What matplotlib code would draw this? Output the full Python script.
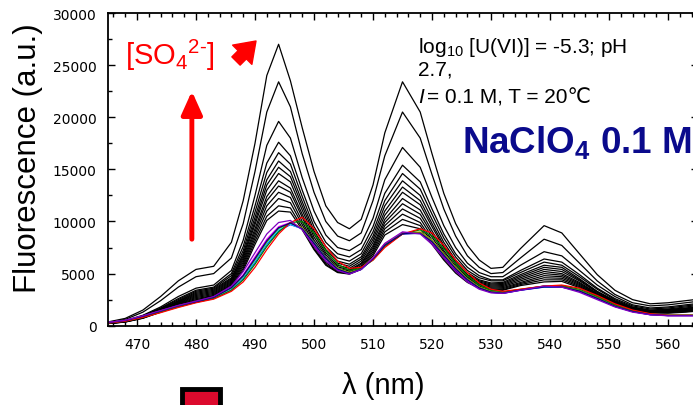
import matplotlib
matplotlib.use("Agg")
import matplotlib.pyplot as plt
from matplotlib.ticker import MultipleLocator
from matplotlib.patches import Rectangle

plt.rcParams['font.family'] = ['Liberation Sans', 'DejaVu Sans']
plt.rcParams['mathtext.default'] = 'regular'

# wavelength grid (nm)
wl = [465, 468, 471, 474, 477, 480, 483, 486, 488, 490, 492, 494, 496, 498, 500,
      502, 504, 506, 508, 510, 512, 515, 518, 520, 522, 524, 526, 528, 530, 532,
      535, 539, 542, 545, 548, 551, 554, 557, 560, 563, 566]

# spectra with increasing sulfate (black)
black_spectra = [
    [350, 700, 1500, 2800, 4300, 5400, 5700, 8000, 12000, 17500, 24000, 27000, 23500, 19000, 14800,
     11500, 9900, 9300, 10200, 13500, 18500, 23400, 20500, 16500, 12700, 9800, 7700, 6300, 5500, 5600,
     7400, 9600, 8900, 6900, 4900, 3400, 2500, 2100, 2200, 2400, 2600],
    [300, 600, 1300, 2400, 3700, 4700, 5000, 6500, 9800, 14800, 20500, 23400, 21000, 16500, 12800,
     10000, 8600, 8150, 8900, 12000, 16300, 20500, 18000, 14500, 11200, 8600, 6700, 5600, 5000, 5100,
     6500, 8300, 7700, 6000, 4300, 3000, 2200, 1900, 2000, 2200, 2400],
    [250, 500, 1000, 1800, 2800, 3600, 3900, 5300, 8200, 12500, 17300, 19600, 18000, 14200, 11000,
     8700, 7500, 7200, 7900, 10300, 14000, 17100, 15200, 12300, 9600, 7500, 6000, 5100, 4700, 4700,
     5800, 7100, 6700, 5300, 3900, 2800, 2000, 1700, 1800, 2000, 2200],
    [250, 450, 950, 1700, 2600, 3400, 3700, 5000, 7600, 11500, 15600, 17600, 16300, 13000, 10000,
     8000, 6900, 6600, 7300, 9500, 12700, 15400, 13800, 11200, 8800, 6900, 5600, 4800, 4400, 4400,
     5300, 6400, 6100, 4900, 3600, 2600, 1900, 1600, 1700, 1900, 2100],
    [250, 450, 900, 1650, 2500, 3300, 3600, 4800, 7200, 10900, 14700, 16600, 15500, 12400, 9500,
     7600, 6500, 6200, 6900, 9000, 12000, 14600, 13100, 10700, 8400, 6600, 5300, 4600, 4300, 4300,
     5100, 6100, 5800, 4700, 3500, 2500, 1800, 1500, 1600, 1800, 2000],
    [240, 430, 870, 1600, 2400, 3200, 3500, 4600, 6900, 10400, 14000, 15800, 14800, 11900, 9100,
     7300, 6200, 5900, 6600, 8600, 11500, 13900, 12500, 10200, 8000, 6300, 5100, 4400, 4100, 4150,
     4900, 5800, 5600, 4500, 3300, 2400, 1750, 1450, 1550, 1700, 1900],
    [230, 420, 850, 1550, 2350, 3100, 3400, 4500, 6700, 10000, 13500, 15200, 14300, 11500, 8800,
     7000, 6000, 5700, 6400, 8300, 11000, 13300, 12000, 9800, 7700, 6100, 4900, 4300, 4000, 4050,
     4750, 5600, 5400, 4400, 3250, 2350, 1700, 1400, 1500, 1650, 1850],
    [230, 410, 830, 1500, 2300, 3000, 3300, 4400, 6500, 9700, 13000, 14600, 13800, 11100, 8500,
     6800, 5800, 5500, 6200, 8000, 10600, 12800, 11600, 9500, 7500, 5900, 4800, 4200, 3900, 3950,
     4600, 5400, 5200, 4300, 3200, 2300, 1650, 1380, 1450, 1600, 1800],
    [220, 400, 810, 1470, 2250, 2900, 3200, 4300, 6300, 9300, 12400, 13900, 13200, 10700, 8200,
     6600, 5650, 5350, 6000, 7700, 10200, 12200, 11100, 9100, 7200, 5700, 4650, 4100, 3800, 3850,
     4450, 5200, 5000, 4150, 3100, 2250, 1600, 1350, 1400, 1550, 1750],
    [220, 390, 790, 1430, 2200, 2800, 3100, 4200, 6100, 9000, 12000, 13400, 12800, 10400, 8000,
     6400, 5500, 5250, 5900, 7500, 9900, 11700, 10700, 8800, 7000, 5550, 4550, 4000, 3700, 3750,
     4300, 5000, 4850, 4050, 3050, 2200, 1580, 1330, 1380, 1500, 1700],
    [210, 380, 770, 1400, 2150, 2700, 3000, 4100, 5900, 8700, 11500, 12800, 12300, 10000, 7800,
     6200, 5350, 5150, 5750, 7300, 9600, 11200, 10300, 8500, 6800, 5400, 4450, 3900, 3600, 3650,
     4150, 4800, 4700, 3950, 3000, 2150, 1550, 1300, 1350, 1450, 1650],
    [210, 370, 750, 1370, 2100, 2600, 2900, 4000, 5700, 8400, 11000, 12200, 11800, 9700, 7600,
     6050, 5250, 5050, 5600, 7100, 9300, 10700, 9900, 8200, 6600, 5250, 4350, 3800, 3500, 3550,
     4050, 4600, 4550, 3850, 2950, 2100, 1520, 1270, 1300, 1400, 1600],
    [200, 360, 730, 1330, 2050, 2500, 2850, 3900, 5500, 8100, 10500, 11500, 11300, 9400, 7400,
     5900, 5150, 5000, 5500, 6900, 9000, 10200, 9600, 8000, 6450, 5150, 4250, 3700, 3450, 3450,
     3950, 4400, 4400, 3750, 2900, 2050, 1500, 1250, 1250, 1350, 1500],
    [200, 350, 710, 1300, 2000, 2400, 2800, 3800, 5300, 7800, 10100, 11000, 10900, 9200, 7300,
     5800, 5100, 4950, 5400, 6700, 8700, 9700, 9300, 7800, 6300, 5050, 4150, 3600, 3400, 3400,
     3850, 4200, 4250, 3650, 2850, 2000, 1480, 1230, 1200, 1300, 1450],
]

# low-sulfate spectra drawn in colour
colour_names = ['#cccc00', 'blue', 'cyan', 'magenta', '#808000', 'green', 'red', '#000080', '#8000c0']
colour_spectra = [
    [300, 500, 900, 1400, 1900, 2300, 2700, 3600, 4700, 6300, 8000, 9300, 9900, 9400, 8000,
     6500, 5500, 5100, 5500, 6500, 7800, 8900, 9000, 8200, 6900, 5600, 4500, 3700, 3300, 3200,
     3500, 3800, 3800, 3400, 2700, 1900, 1400, 1100, 1000, 1000, 1000],
    [280, 480, 870, 1350, 1850, 2250, 2650, 3500, 4550, 6100, 7800, 9100, 9700, 9300, 8000,
     6500, 5400, 5000, 5400, 6400, 7700, 8800, 8900, 8100, 6800, 5500, 4400, 3600, 3200, 3100,
     3400, 3700, 3700, 3300, 2600, 1850, 1350, 1050, 980, 980, 980],
    [290, 490, 880, 1380, 1870, 2280, 2680, 3550, 4650, 6200, 7900, 9200, 9750, 9300, 7950,
     6450, 5450, 5050, 5450, 6450, 7750, 8850, 8900, 8100, 6800, 5500, 4450, 3650, 3250, 3150,
     3450, 3750, 3750, 3350, 2650, 1880, 1380, 1080, 990, 990, 990],
    [310, 510, 920, 1420, 1920, 2320, 2750, 3700, 4900, 6600, 8300, 9500, 9900, 9300, 7800,
     6400, 5400, 5000, 5450, 6500, 7850, 8950, 8900, 8000, 6700, 5400, 4350, 3600, 3200, 3150,
     3450, 3800, 3750, 3300, 2600, 1850, 1350, 1070, 970, 970, 970],
    [290, 490, 890, 1390, 1890, 2290, 2700, 3620, 4750, 6350, 8050, 9350, 9850, 9350, 7950,
     6480, 5470, 5080, 5480, 6480, 7780, 8880, 8950, 8150, 6850, 5550, 4480, 3680, 3280, 3180,
     3480, 3780, 3780, 3380, 2680, 1890, 1390, 1090, 1000, 1000, 1000],
    [260, 450, 830, 1300, 1800, 2250, 2600, 3400, 4400, 5900, 7600, 9000, 9900, 10000, 8900,
     7200, 5900, 5300, 5500, 6300, 7600, 8800, 9200, 8600, 7400, 6000, 4800, 3900, 3400, 3250,
     3450, 3800, 3850, 3500, 2800, 2000, 1450, 1120, 1000, 1000, 1000],
    [250, 430, 800, 1250, 1750, 2200, 2550, 3300, 4200, 5600, 7300, 8800, 9900, 10400, 9300,
     7600, 6200, 5500, 5600, 6300, 7500, 8800, 9300, 8900, 7700, 6300, 5100, 4100, 3500, 3300,
     3500, 3800, 3900, 3600, 2900, 2100, 1500, 1150, 1000, 1000, 1000],
    [300, 500, 910, 1410, 1910, 2310, 2720, 3650, 4800, 6450, 8150, 9400, 9850, 9300, 7900,
     6450, 5420, 5020, 5420, 6420, 7720, 8820, 8850, 8050, 6750, 5450, 4400, 3620, 3220, 3120,
     3420, 3720, 3720, 3320, 2620, 1860, 1360, 1060, 970, 970, 970],
    [320, 520, 950, 1450, 1950, 2350, 2800, 3800, 5200, 7000, 8800, 9900, 10100, 9200, 7600,
     6200, 5300, 4950, 5400, 6500, 7900, 9000, 8800, 7800, 6500, 5200, 4200, 3500, 3150, 3100,
     3400, 3800, 3700, 3200, 2500, 1800, 1300, 1050, 950, 950, 950],
]

fig = plt.figure(figsize=(6.93, 4.06), dpi=100)
ax = fig.add_axes([107.5 / 693, 1 - 326.7 / 406, 590 / 693, 312.7 / 406])

for s in black_spectra:
    ax.plot(wl, s, color='black', lw=0.9)
for c, s in zip(colour_names, colour_spectra):
    ax.plot(wl, s, color=c, lw=0.9)

ax.set_xlim(465, 565)
ax.set_ylim(0, 30000)
ax.xaxis.set_major_locator(MultipleLocator(10))
ax.xaxis.set_minor_locator(MultipleLocator(2))
ax.yaxis.set_major_locator(MultipleLocator(5000))
ax.yaxis.set_minor_locator(MultipleLocator(2500))
ax.tick_params(which='both', direction='in', top=True, right=True, width=1)
ax.tick_params(which='major', length=5, labelsize=10, pad=8)
ax.tick_params(which='minor', length=3)
for lab in ax.get_xticklabels() + ax.get_yticklabels():
    lab.set_family('DejaVu Sans')
for sp in ax.spines.values():
    sp.set_linewidth(1.3)

fig.text(28 / 693, 1 - 158 / 406, 'Fluorescence (a.u.)', rotation=90, fontsize=22.5,
         ha='center', va='center')
fig.text(383 / 693, 1 - 386 / 406, 'λ (nm)', fontsize=21, ha='center', va='center')

fig.text(125 / 693, 1 - 65 / 406, '[SO$_4$$^{2\u2010}$]', color='red', fontsize=21,
         ha='left', va='baseline')
ax.annotate('', xy=(256, 406 - 42), xytext=(236, 406 - 62), xycoords='figure pixels',
            textcoords='figure pixels',
            arrowprops=dict(arrowstyle='simple,head_width=1.4,head_length=1.0,tail_width=0.6',
                            color='red', mutation_scale=14, shrinkA=0, shrinkB=0))
ax.annotate('', xy=(479.3, 22500), xytext=(479.3, 8300),
            arrowprops=dict(arrowstyle='-|>,head_width=0.45,head_length=1.0', color='red',
                            lw=3.5, shrinkA=0, shrinkB=0, mutation_scale=14))

fig.text(418 / 693, 1 - 36 / 406, 'log$_{10}$ [U(VI)] = -5.3; pH\n2.7,',
         fontsize=15, ha='left', va='top', linespacing=1.1)
fig.text(418 / 693, 1 - 103 / 406, 'I', fontsize=15, style='italic',
         ha='left', va='baseline')
fig.text(427 / 693, 1 - 103 / 406, '= 0.1 M, T = 20\u2103', fontsize=15,
         ha='left', va='baseline')
fig.text(462 / 693, 1 - 153 / 406, 'NaClO$_4$ 0.1 M', color='#0a0a8c', fontsize=26.5,
         fontweight='bold', ha='left', va='baseline')

fig.patches.append(Rectangle((182 / 693, -20 / 406), 38 / 693, 406 / 406 - 370 / 406,
                             transform=fig.transFigure, facecolor='#dc0a2d',
                             edgecolor='black', lw=3.5, clip_on=False))

fig.savefig('out.png', dpi=100)
